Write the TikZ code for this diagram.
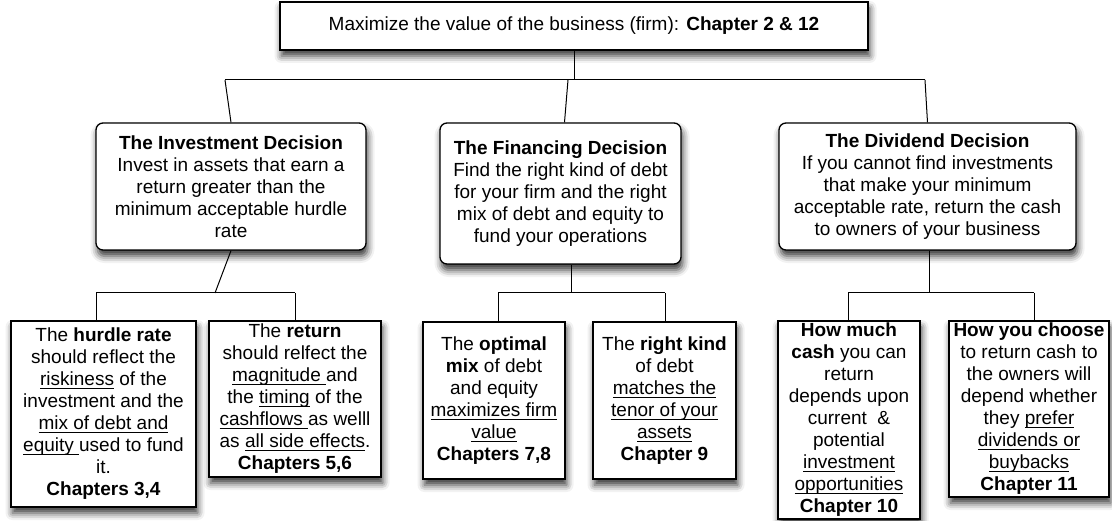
\documentclass[tikz,border=0pt]{standalone}
\usepackage{fontspec}
\setmainfont{Liberation Sans}
\usetikzlibrary{shadows.blur}
\newcommand\myul[1]{\leavevmode\setbox0\hbox{#1}\rlap{\rule[-3pt]{\wd0}{0.9pt}}\box0\relax}
\begin{document}
\begin{tikzpicture}[x=1pt,y=-1pt,
  box/.style={draw, line width=1.3pt, fill=white, align=center, inner sep=1pt,
    font=\fontsize{19}{22}\selectfont,
    blur shadow={shadow xshift=1.5pt, shadow yshift=-6pt, shadow blur radius=7pt, shadow opacity=80}},
  dec/.style={box, rounded corners=7pt},
  link/.style={draw, line width=1pt}]
\useasboundingbox (0,0) rectangle (1112,521);

\node[box, minimum width=588pt, minimum height=48pt] (top) at (574,26)
  {Maximize the value of the business (firm): \textbf{Chapter 2 \& 12}};

\node[dec, minimum width=270pt, minimum height=127pt] (inv) at (231,186.5)
  {\textbf{The Investment Decision}\\Invest in assets that earn a\\return greater than the\\minimum acceptable hurdle\\rate};
\node[dec, minimum width=241pt, minimum height=141pt] (fin) at (560.5,193.5)
  {\textbf{The Financing Decision}\\Find the right kind of debt\\for your firm and the right\\mix of debt and equity to\\fund your operations};
\node[dec, minimum width=297pt, minimum height=127pt] (div) at (927.5,186.5)
  {\textbf{The Dividend Decision}\\If you cannot find investments\\that make your minimum\\acceptable rate, return the cash\\to owners of your business};

\node[box, minimum width=185pt, minimum height=186pt] (hurdle) at (103.5,414)
  {The \textbf{hurdle rate}\\should reflect the\\\myul{riskiness} of the\\investment and the\\\myul{mix of debt and}\\\myul{equity\ }used to fund\\it.\\\textbf{Chapters 3,4}};
\node[box, minimum width=172pt, minimum height=156pt] (ret) at (295,399)
  {The \textbf{return}\\should relfect the\\\myul{magnitude\ }and\\the \myul{timing} of the\\\myul{cashflows\ }as welll\\as \myul{all side effects}.\\\textbf{Chapters 5,6}};
\node[box, minimum width=142pt, minimum height=157pt] (opt) at (494,400.5)
  {The \textbf{optimal}\\\textbf{mix} of debt\\and equity\\\myul{maximizes firm}\\\myul{value}\\\textbf{Chapters 7,8}};
\node[box, minimum width=143pt, minimum height=157pt] (kind) at (664.5,400.5)
  {The \textbf{right kind}\\of debt\\\myul{matches the}\\\myul{tenor of your}\\\myul{assets}\\\textbf{Chapter 9}};
\node[box, minimum width=142pt, minimum height=198pt] (much) at (849,420)
  {\textbf{How much}\\\textbf{cash} you can\\return\\depends upon\\current \ \&\\potential\\\myul{investment}\\\myul{opportunities}\\\textbf{Chapter 10}};
\node[box, minimum width=160pt, minimum height=176pt] (choose) at (1029,409)
  {\textbf{How you choose}\\to return cash to\\the owners will\\depend whether\\they \myul{prefer}\\\myul{dividends or}\\\myul{buybacks}\\\textbf{Chapter 11}};

% first level connectors
\coordinate (t0) at (574,80);
\coordinate (ta) at (225,80);
\coordinate (tb) at (568,80);
\coordinate (tc) at (925,80);
\draw[link] (top.south) -- (t0);
\draw[link] (ta) -- (tc);
\draw[link] (ta) -- (inv.north);
\draw[link] (tb) -- ([xshift=4pt]fin.north);
\draw[link] (tc) -- (div.north);

% investment branch
\coordinate (i0) at (215,293);
\coordinate (ia) at (96,293);
\coordinate (ib) at (295,293);
\draw[link] (inv.south) -- (i0);
\draw[link] (ia) -- (ib);
\draw[link] (ia) -- (ia |- hurdle.north);
\draw[link] (ib) -- (ib |- ret.north);

% financing branch
\coordinate (f0) at (571,293);
\coordinate (fa) at (498,293);
\coordinate (fb) at (665,293);
\draw[link] (f0 |- fin.south) -- (f0);
\draw[link] (fa) -- (fb);
\draw[link] (fa) -- (fa |- opt.north);
\draw[link] (fb) -- (fb |- kind.north);

% dividend branch
\coordinate (d0) at (929,293);
\coordinate (da) at (848,293);
\coordinate (db) at (1034,293);
\draw[link] (d0 |- div.south) -- (d0);
\draw[link] (da) -- (db);
\draw[link] (da) -- (da |- much.north);
\draw[link] (db) -- (db |- choose.north);
\end{tikzpicture}
\end{document}
